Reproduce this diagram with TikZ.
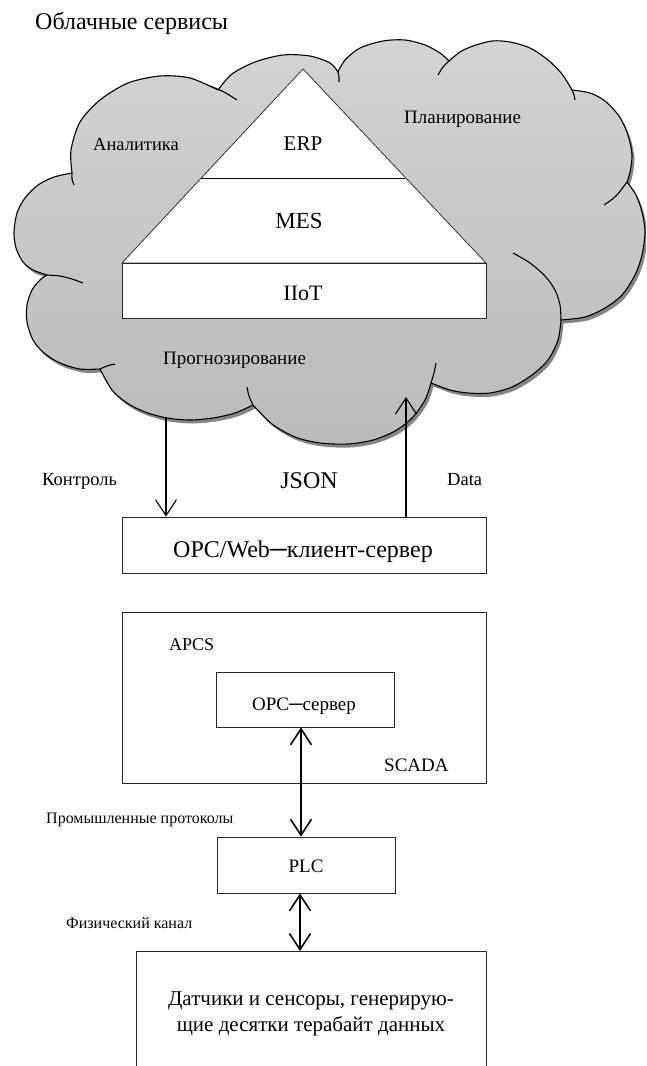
\documentclass[tikz,border=0pt]{standalone}
\usepackage{fontspec}
\setmainfont{Liberation Serif}
\usetikzlibrary{arrows.meta}
\newcommand{\cloudpath}{%
plot[smooth] coordinates {(72,173)(71,150)(80,122)(100,100)(128,83)(160,76)(190,78)(218,90)}
-- plot[smooth] coordinates {(218,90)(232,74)(255,62)(283,55)(310,56)(330,63)(338,72)}
-- plot[smooth] coordinates {(338,72)(345,60)(360,48)(383,41)(405,40)(425,45)(440,53)(449,61)}
-- plot[smooth] coordinates {(449,61)(460,52)(473,46)(492,41)(510,42)(530,48)(548,60)(562,74)(572,90)}
-- plot[smooth] coordinates {(572,90)(590,93)(605,101)(619,116)(628,135)(632,155)(630,172)(627,182)}
-- plot[smooth] coordinates {(627,182)(636,195)(642,212)(645,232)(642,255)(635,275)(622,295)(605,308)(585,317)(561,320)}
-- plot[smooth] coordinates {(561,320)(558,340)(548,360)(532,375)(512,387)(490,393)(468,393)(450,390)(431,383)}
-- plot[smooth] coordinates {(431,383)(425,400)(412,418)(395,431)(373,440)(348,444)(320,443)(295,437)(272,424)(253,405)}
-- plot[smooth] coordinates {(253,405)(235,413)(213,418)(190,420)(167,418)(145,412)(127,403)(112,390)(100,369)}
-- plot[smooth] coordinates {(100,369)(80,369)(60,363)(44,353)(33,340)(27,322)(27,305)(32,290)(40,280)(47,275)}
-- plot[smooth] coordinates {(47,275)(33,270)(23,262)(16,248)(14,232)(17,213)(25,198)(38,185)(54,177)(72,173)}
-- cycle}
\tikzset{
  boxnode/.style={draw=black!85, line width=0.8pt, fill=white, inner sep=0pt},
  lbl/.style={inner sep=0pt, anchor=base west},
  clbl/.style={inner sep=0pt, anchor=base},
  crease/.style={line width=1.1pt, black},
  arr/.style={line width=1.1pt, -{Straight Barb[length=16pt,width=21pt]}},
  dbl/.style={line width=1.6pt, {Straight Barb[length=16pt,width=21pt]}-{Straight Barb[length=16pt,width=21pt]}}
}
\begin{document}
\begin{tikzpicture}[x=1pt,y=-1pt]
\useasboundingbox (0,0) rectangle (646,1066);
\clip (0,0) rectangle (646,1066);
% title
\node[lbl, font=\fontsize{24}{28}\selectfont] (title) at (35,29) {Облачные сервисы};
% cloud
\fill[black!48, shift={(2.5,3.5)}] \cloudpath;
\shade[top color=black!17, bottom color=black!27] \cloudpath;
\draw[line width=1.1pt, black, line join=round] \cloudpath;
\draw[crease] plot[smooth] coordinates {(72,173)(72,179)(74,185)};
\draw[crease] plot[smooth] coordinates {(210,86)(224,92)(237,100)};
\draw[crease] plot[smooth] coordinates {(338,72)(339,77)(339,82)};
\draw[crease] plot[smooth] coordinates {(449,61)(443,67)(438,75)};
\draw[crease] plot[smooth] coordinates {(572,90)(574,95)(575,100)};
\draw[crease] plot[smooth] coordinates {(627,182)(616,196)(604,205)};
\draw[crease] plot[smooth] coordinates {(561,320)(560,305)(555,290)(545,276)(530,263)(513,253)};
\draw[crease] plot[smooth] coordinates {(431,383)(434,373)(436,363)};
\draw[crease] plot[smooth] coordinates {(253,405)(249,396)(247,387)};
\draw[crease] plot[smooth] coordinates {(100,369)(107,366)(115,364)};
\draw[crease] plot[smooth] coordinates {(47,275)(60,276)(72,279)(83,283)};
% pyramid
\coordinate (apex) at (303,69);
\coordinate (bl) at (122,263);
\coordinate (br) at (486,263);
\coordinate (ml) at (201,178);
\coordinate (mr) at (405,178);
\draw[draw=black!80, fill=white, line width=0.8pt, line join=round] (apex) -- (br) -- (bl) -- cycle;
\draw[line width=1pt, black] (ml) -- (mr);
\node[boxnode, minimum width=364pt, minimum height=55pt] (iiot) at (304,290.5) {};
\node[clbl, font=\fontsize{21}{25}\selectfont] (erp) at (303,150) {ERP};
\node[clbl, font=\fontsize{23}{27}\selectfont] (mes) at (299,228) {MES};
\node[clbl, font=\fontsize{22}{26}\selectfont] (iiott) at (303,300) {IIoT};
\node[lbl, font=\fontsize{18.5}{23}\selectfont] (an) at (93,150) {Аналитика};
\node[lbl, font=\fontsize{19}{23}\selectfont] (pl) at (404,123) {Планирование};
\node[lbl, font=\fontsize{19}{23}\selectfont] (pr) at (163,364) {Прогнозирование};
% OPC/Web box
\node[boxnode, minimum width=364pt, minimum height=56pt] (opcweb) at (304,545) {};
\node[clbl, font=\fontsize{24}{28}\selectfont] (opcwebt) at (303,557) {OPC/Web─клиент-сервер};
\node[lbl, font=\fontsize{18.5}{22}\selectfont] (ctrl) at (42,485) {Контроль};
\node[clbl, font=\fontsize{24}{28}\selectfont] (json) at (309,488) {JSON};
\node[lbl, font=\fontsize{18.5}{22}\selectfont] (data) at (447,485) {Data};
\coordinate (cstart) at (166,417);
\coordinate (dtip) at (406,397);
\draw[arr] (cstart) -- (opcweb.north -| cstart);
\draw[arr] (opcweb.north -| dtip) -- (dtip);
% APCS / SCADA box
\node[boxnode, minimum width=364pt, minimum height=171pt] (apcs) at (304,697.5) {};
\node[lbl, font=\fontsize{18}{22}\selectfont] (apcst) at (169,650) {APCS};
\node[lbl, font=\fontsize{19}{23}\selectfont] (scada) at (384,771) {SCADA};
\node[boxnode, minimum width=178pt, minimum height=55pt] (opcs) at (305,699.5) {};
\node[clbl, font=\fontsize{19}{23}\selectfont] (opcst) at (304,710) {OPC─сервер};
% PLC
\node[boxnode, minimum width=178pt, minimum height=56pt] (plc) at (306,865) {};
\node[clbl, font=\fontsize{19}{23}\selectfont] (plct) at (306,872) {PLC};
\node[lbl, font=\fontsize{16}{20}\selectfont] (prot) at (46,823) {Промышленные протоколы};
\node[lbl, font=\fontsize{16}{20}\selectfont] (phys) at (66,928) {Физический канал};
% sensors
\node[boxnode, minimum width=350pt, minimum height=140pt, anchor=north] (sens) at (311,951) {};
\node[align=center, inner sep=0pt, font=\fontsize{21}{26}\selectfont] (senst) at (311,1014) {Датчики и сенсоры, генерирую-\\щие десятки терабайт данных};
\coordinate (ax1) at (301,0);
\coordinate (ax2) at (300,0);
\draw[dbl] (opcs.south -| ax1) -- (plc.north -| ax1);
\draw[dbl] (plc.south -| ax2) -- (sens.north -| ax2);
\end{tikzpicture}
\end{document}
